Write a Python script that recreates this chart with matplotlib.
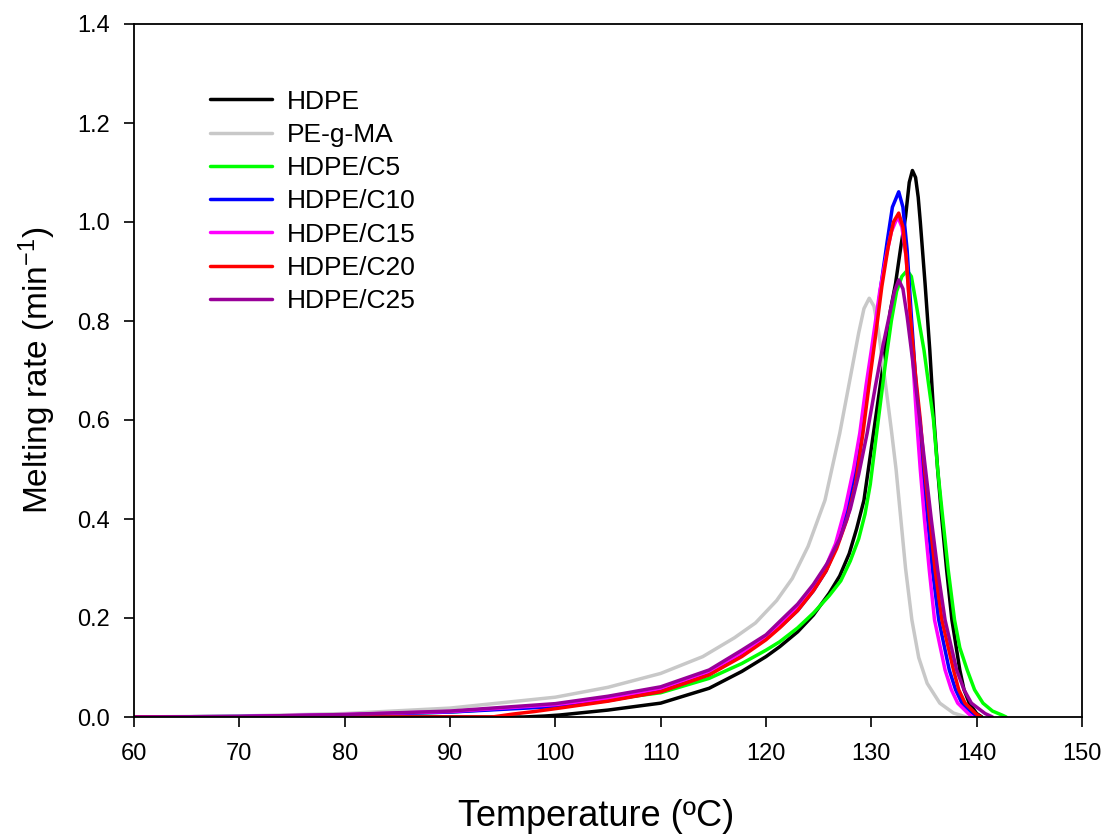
import matplotlib
matplotlib.use("Agg")
import matplotlib.pyplot as plt

plt.rcParams['font.family'] = ['Liberation Sans', 'DejaVu Sans']
plt.rcParams['mathtext.default'] = 'regular'

# ---- data ----
T_hdpe = [60, 97, 99, 100.4, 105, 110, 114.6, 117.7, 120, 121.3, 123, 124.5, 126, 127.0,
          127.9, 128.6, 129.3, 130.2, 131.1, 131.8, 132.3, 132.8, 133.25, 133.6, 133.9, 134.2,
          134.45, 134.65, 135.1, 135.55, 135.95, 136.3, 136.7, 137.15, 137.65, 138.4, 138.8,
          139.3, 140.0, 140.5]
R_hdpe = [0, 0, 0.002, 0.004, 0.014, 0.028, 0.058, 0.092, 0.122, 0.142, 0.172, 0.206, 0.25, 0.285,
          0.33, 0.38, 0.438, 0.573, 0.708, 0.82, 0.876, 0.95, 1.011, 1.08, 1.104, 1.09,
          1.05, 1.0, 0.876, 0.741, 0.6, 0.499, 0.398, 0.297, 0.196, 0.095, 0.055,
          0.028, 0.007, 0]

T_pegma = [60, 70, 80, 90, 100, 105, 110, 114, 117, 119, 121, 122.5, 124, 125.6, 127.0,
           128.2, 128.8, 129.3, 129.8, 130.25, 130.7, 131.3, 131.9, 132.35, 132.8, 133.25,
           133.85, 134.5, 135.3, 136.5, 137.8, 139.0]
R_pegma = [0, 0.002, 0.007, 0.018, 0.040, 0.060, 0.088, 0.122, 0.160, 0.19, 0.235, 0.28, 0.345,
           0.438, 0.573, 0.708, 0.776, 0.825, 0.846, 0.83, 0.776, 0.68, 0.58, 0.50, 0.40, 0.30,
           0.196, 0.12, 0.068, 0.028, 0.008, 0]

T_c5 = [60, 70, 80, 90, 100.4, 105, 110, 114.6, 117.7, 120, 121.3, 123, 124.5, 126, 127.1,
        128.0, 128.8, 129.4, 129.9, 130.5, 131.3, 131.9, 132.4, 132.9, 133.4, 133.8, 134.2,
        134.6, 135.0, 135.45, 135.9, 136.3, 136.8, 137.3, 137.9, 138.4, 139.1, 139.8, 140.6,
        141.5, 142.4, 142.8]
R_c5 = [0, 0.001, 0.004, 0.010, 0.024, 0.035, 0.049, 0.078, 0.108, 0.135, 0.152, 0.18, 0.21,
        0.245, 0.275, 0.315, 0.36, 0.41, 0.47, 0.573, 0.708, 0.80, 0.86, 0.89, 0.902, 0.89,
        0.842, 0.79, 0.741, 0.67, 0.6, 0.5, 0.398, 0.297, 0.196, 0.14, 0.095, 0.055, 0.028,
        0.012, 0.004, 0]

T_c10 = [60, 70, 80, 90, 100, 105, 110, 114.6, 117.7, 120, 121.5, 123, 124.5, 125.7, 126.7,
         127.6, 128.5, 129.1, 129.7, 130.2, 130.9, 131.5, 132.0, 132.6, 133.0, 133.4, 133.8,
         134.15, 134.5, 134.9, 135.35, 135.8, 136.4, 137.4, 138.0, 138.6, 139.6, 140.1]
R_c10 = [0, 0.001, 0.004, 0.010, 0.021, 0.033, 0.052, 0.086, 0.125, 0.158, 0.185, 0.215, 0.255,
         0.295, 0.345, 0.41, 0.50, 0.573, 0.67, 0.75, 0.87, 0.96, 1.03, 1.061, 1.03, 0.943,
         0.809, 0.70, 0.6, 0.499, 0.398, 0.297, 0.196, 0.095, 0.055, 0.028, 0.007, 0]

T_c15 = [60, 70, 80, 90, 100, 105, 110, 114.6, 117.7, 120, 121.5, 123, 124.5, 125.6, 126.6,
         127.5, 128.3, 128.9, 129.5, 130.0, 130.8, 131.4, 131.9, 132.5, 132.9, 133.3, 133.6,
         134.0, 134.3, 134.65, 135.05, 135.5, 136.0, 137.0, 137.6, 138.2, 139.2, 139.6]
R_c15 = [0, 0.001, 0.005, 0.011, 0.025, 0.038, 0.058, 0.092, 0.130, 0.162, 0.19, 0.222, 0.26,
         0.30, 0.35, 0.42, 0.50, 0.573, 0.67, 0.741, 0.86, 0.93, 0.98, 1.011, 0.99, 0.93,
         0.842, 0.70, 0.6, 0.499, 0.398, 0.297, 0.196, 0.095, 0.055, 0.028, 0.007, 0]

T_c20 = [60, 94, 96, 98, 100.4, 105, 110, 114.6, 117.7, 120, 121.3, 123, 124.5, 125.7, 126.7,
         127.7, 128.5, 129.2, 129.9, 130.4, 131.0, 131.6, 132.1, 132.6, 133.0, 133.3, 133.7,
         134.2, 134.65, 135.05, 135.55, 136.05, 136.7, 137.8, 138.3, 138.9, 139.9, 140.4]
R_c20 = [0, 0, 0.006, 0.011, 0.018, 0.032, 0.051, 0.085, 0.122, 0.156, 0.18, 0.215, 0.255,
         0.295, 0.34, 0.40, 0.47, 0.573, 0.69, 0.77, 0.87, 0.95, 1.0, 1.018, 0.99, 0.93,
         0.809, 0.69, 0.6, 0.499, 0.398, 0.297, 0.196, 0.095, 0.055, 0.028, 0.007, 0]

T_c25 = [60, 70, 80, 90, 100, 105, 110, 114.6, 117.7, 120, 121.3, 123, 124.5, 125.8, 127.0,
         128.0, 128.8, 129.6, 130.4, 131.1, 131.7, 132.2, 132.6, 133.0, 133.4, 133.8, 134.6,
         135.15, 135.7, 136.3, 137.0, 138.1, 138.8, 139.5, 140.8, 141.5]
R_c25 = [0, 0.001, 0.005, 0.012, 0.027, 0.042, 0.061, 0.095, 0.135, 0.166, 0.193, 0.228, 0.268,
         0.31, 0.36, 0.42, 0.49, 0.573, 0.67, 0.75, 0.81, 0.86, 0.883, 0.865, 0.809, 0.741,
         0.6, 0.499, 0.398, 0.297, 0.196, 0.095, 0.055, 0.028, 0.007, 0]

labels = ['HDPE', 'PE-g-MA', 'HDPE/C5', 'HDPE/C10', 'HDPE/C15', 'HDPE/C20', 'HDPE/C25']
colors = ['#000000', '#c8c8c8', '#00ff00', '#0000ff', '#ff00ff', '#ff0000', '#990099']
series = [(T_hdpe, R_hdpe), (T_pegma, R_pegma), (T_c5, R_c5), (T_c10, R_c10),
          (T_c15, R_c15), (T_c20, R_c20), (T_c25, R_c25)]

xticks = [60, 70, 80, 90, 100, 110, 120, 130, 140, 150]
yticks = [0.0, 0.2, 0.4, 0.6, 0.8, 1.0, 1.2, 1.4]

fig = plt.figure(figsize=(11.14, 8.39), dpi=100)
ax = fig.add_axes([134/1114, 1 - 717/839, (1082-134)/1114, (717-24)/839])

for (t, r), lab, c in zip(series, labels, colors):
    ax.plot(t, r, color=c, lw=2.5, label=lab, solid_capstyle='round', solid_joinstyle='round')

ax.set_xlim(60, 150)
ax.set_ylim(0, 1.4)
ax.set_xticks(xticks)
ax.set_yticks(yticks)
ax.set_xticklabels([str(v) for v in xticks])
ax.set_yticklabels([f'{v:.1f}' for v in yticks])
ax.tick_params(direction='out', length=7, width=1.2, labelsize=17)
ax.tick_params(axis='x', pad=12)
ax.tick_params(axis='y', pad=10.5)
for s in ax.spines.values():
    s.set_linewidth(1.3)

ax.set_xlabel('Temperature (ºC)', fontsize=26)
ax.set_ylabel('Melting rate (min$^{-1}$)', fontsize=24)
ax.xaxis.set_label_coords(0.487, -0.118)
ax.yaxis.set_label_coords(-0.0805, 0.5)

leg = ax.legend(loc='upper left', bbox_to_anchor=(0.0692, 0.9206), frameon=False,
                fontsize=19, handlelength=2.35, handletextpad=0.55, labelspacing=0.35,
                borderaxespad=0)

fig.savefig('out.png', dpi=100)
